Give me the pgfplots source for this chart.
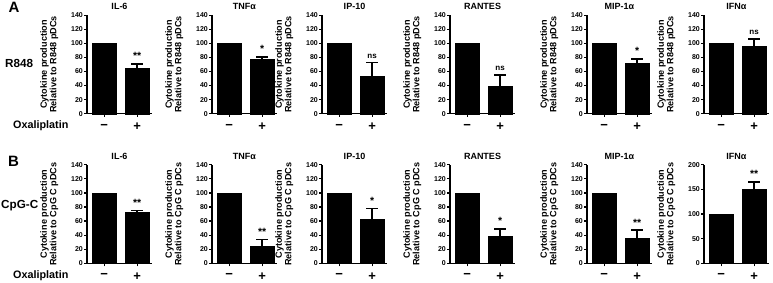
\documentclass[border=0pt]{standalone}
\usepackage{fontspec}
\setmainfont{Liberation Sans}
\usepackage{pgfplots}
\pgfplotsset{compat=1.18}
\pgfplotsset{panel/.style={
  scale only axis, width=65pt, height=98.5pt, anchor=south west,
  xmin=-0.52, xmax=1.45, ymin=0,
  axis lines=left, axis line style={-, line width=1.5pt},
  xtick={0,1}, xticklabels={,},
  tick align=outside, major tick length=3pt,
  tick style={line width=1.2pt, black},
  /pgf/number format/assume math mode=true,
  yticklabel style={font=\bfseries\fontsize{7}{8}\selectfont, inner sep=1pt},
  every axis title/.style={font=\bfseries\fontsize{9}{10}\selectfont, at={(axis description cs:0.5,1)}, anchor=south, yshift=5pt, inner sep=0pt},
  ylabel style={font=\bfseries\fontsize{9.1}{9.4}\selectfont, align=center, at={(axis description cs:-0.44,0.5)}, anchor=south, inner sep=0pt},
  clip=false,
  /pgfplots/error bars/error bar style={line width=1.6pt, black, solid},
  /pgfplots/error bars/error mark options={rotate=90, mark size=6pt, line width=1.6pt, black, solid},
}}
\newcommand{\st}{\fontsize{10.5}{10}\selectfont}
\tikzset{sig/.style={font=\bfseries\fontsize{8}{8}\selectfont, anchor=south, inner sep=0pt, yshift=4pt},
  pm/.style={font=\bfseries\fontsize{13}{13}\selectfont, anchor=center, yshift=-13pt, inner sep=0pt}}
% #1 x, #2 y, #3 title, #4 ymax, #5 yticks, #6 reference, #7 value, #8 error, #9 mark
\newcommand{\panel}[9]{%
\pgfmathsetmacro\errtop{#7+#8}%
\begin{axis}[panel, at={(#1pt,#2pt)}, title={#3}, ymax=#4, ytick={#5},
  ylabel={Cytokine production\\Relative to #6 pDCs}]
\addplot[ybar, bar width=0.75, bar shift=0pt, fill=black, draw=black] coordinates {(0,100)};
\addplot[ybar, bar width=0.75, bar shift=0pt, fill=black, draw=black,
  error bars/.cd, y dir=plus, y explicit]
  coordinates {(1,#7) +- (0,#8)};
\node[sig] at (axis cs:1,\errtop) {#9};
\node[pm] at (axis cs:0,0) {−};
\node[pm] at (axis cs:1,0) {+};
\end{axis}}
\begin{document}
\begin{tikzpicture}[x=1pt,y=1pt]
\useasboundingbox (0,0) rectangle (773,282);
% row A
\def\ya{168.3}
\panel{87}{\ya}{IL-6}{140}{0,20,...,140}{R848}{65}{6}{\st **}
\panel{212}{\ya}{TNFα}{140}{0,20,...,140}{R848}{77}{4}{\st *}
\panel{322}{\ya}{IP-10}{140}{0,20,...,140}{R848}{53}{20}{ns}
\panel{450}{\ya}{RANTES}{140}{0,20,...,140}{R848}{39}{16}{ns}
\panel{587}{\ya}{MIP-1α}{140}{0,20,...,140}{R848}{72}{6}{\st *}
\panel{704}{\ya}{IFNα}{140}{0,20,...,140}{R848}{96}{10}{ns}
% row B
\def\yb{18.7}
\panel{87}{\yb}{IL-6}{140}{0,20,...,140}{CpG C}{72}{3}{\st **}
\panel{212}{\yb}{TNFα}{140}{0,20,...,140}{CpG C}{25}{9}{\st **}
\panel{322}{\yb}{IP-10}{140}{0,20,...,140}{CpG C}{62}{16}{\st *}
\panel{450}{\yb}{RANTES}{140}{0,20,...,140}{CpG C}{38}{11}{\st *}
\panel{587}{\yb}{MIP-1α}{140}{0,20,...,140}{CpG C}{35}{12}{\st **}
\panel{704}{\yb}{IFNα}{200}{0,50,...,200}{CpG C}{150}{15}{\st **}
% labels
\node[font=\bfseries\fontsize{15}{15}\selectfont, inner sep=0pt] at (14,274.5) {A};
\node[font=\bfseries\fontsize{15}{15}\selectfont, inner sep=0pt] at (13.5,121) {B};
\node[font=\bfseries\fontsize{11.7}{12}\selectfont, anchor=west, inner sep=0pt] at (5,219) {R848};
\node[font=\bfseries\fontsize{11.7}{12}\selectfont, anchor=west, inner sep=0pt] at (1,76.5) {CpG-C};
\node[font=\bfseries\fontsize{10.8}{11}\selectfont, anchor=west, inner sep=0pt] at (13,156) {Oxaliplatin};
\node[font=\bfseries\fontsize{10.8}{11}\selectfont, anchor=west, inner sep=0pt] at (13,5.8) {Oxaliplatin};
\end{tikzpicture}
\end{document}
